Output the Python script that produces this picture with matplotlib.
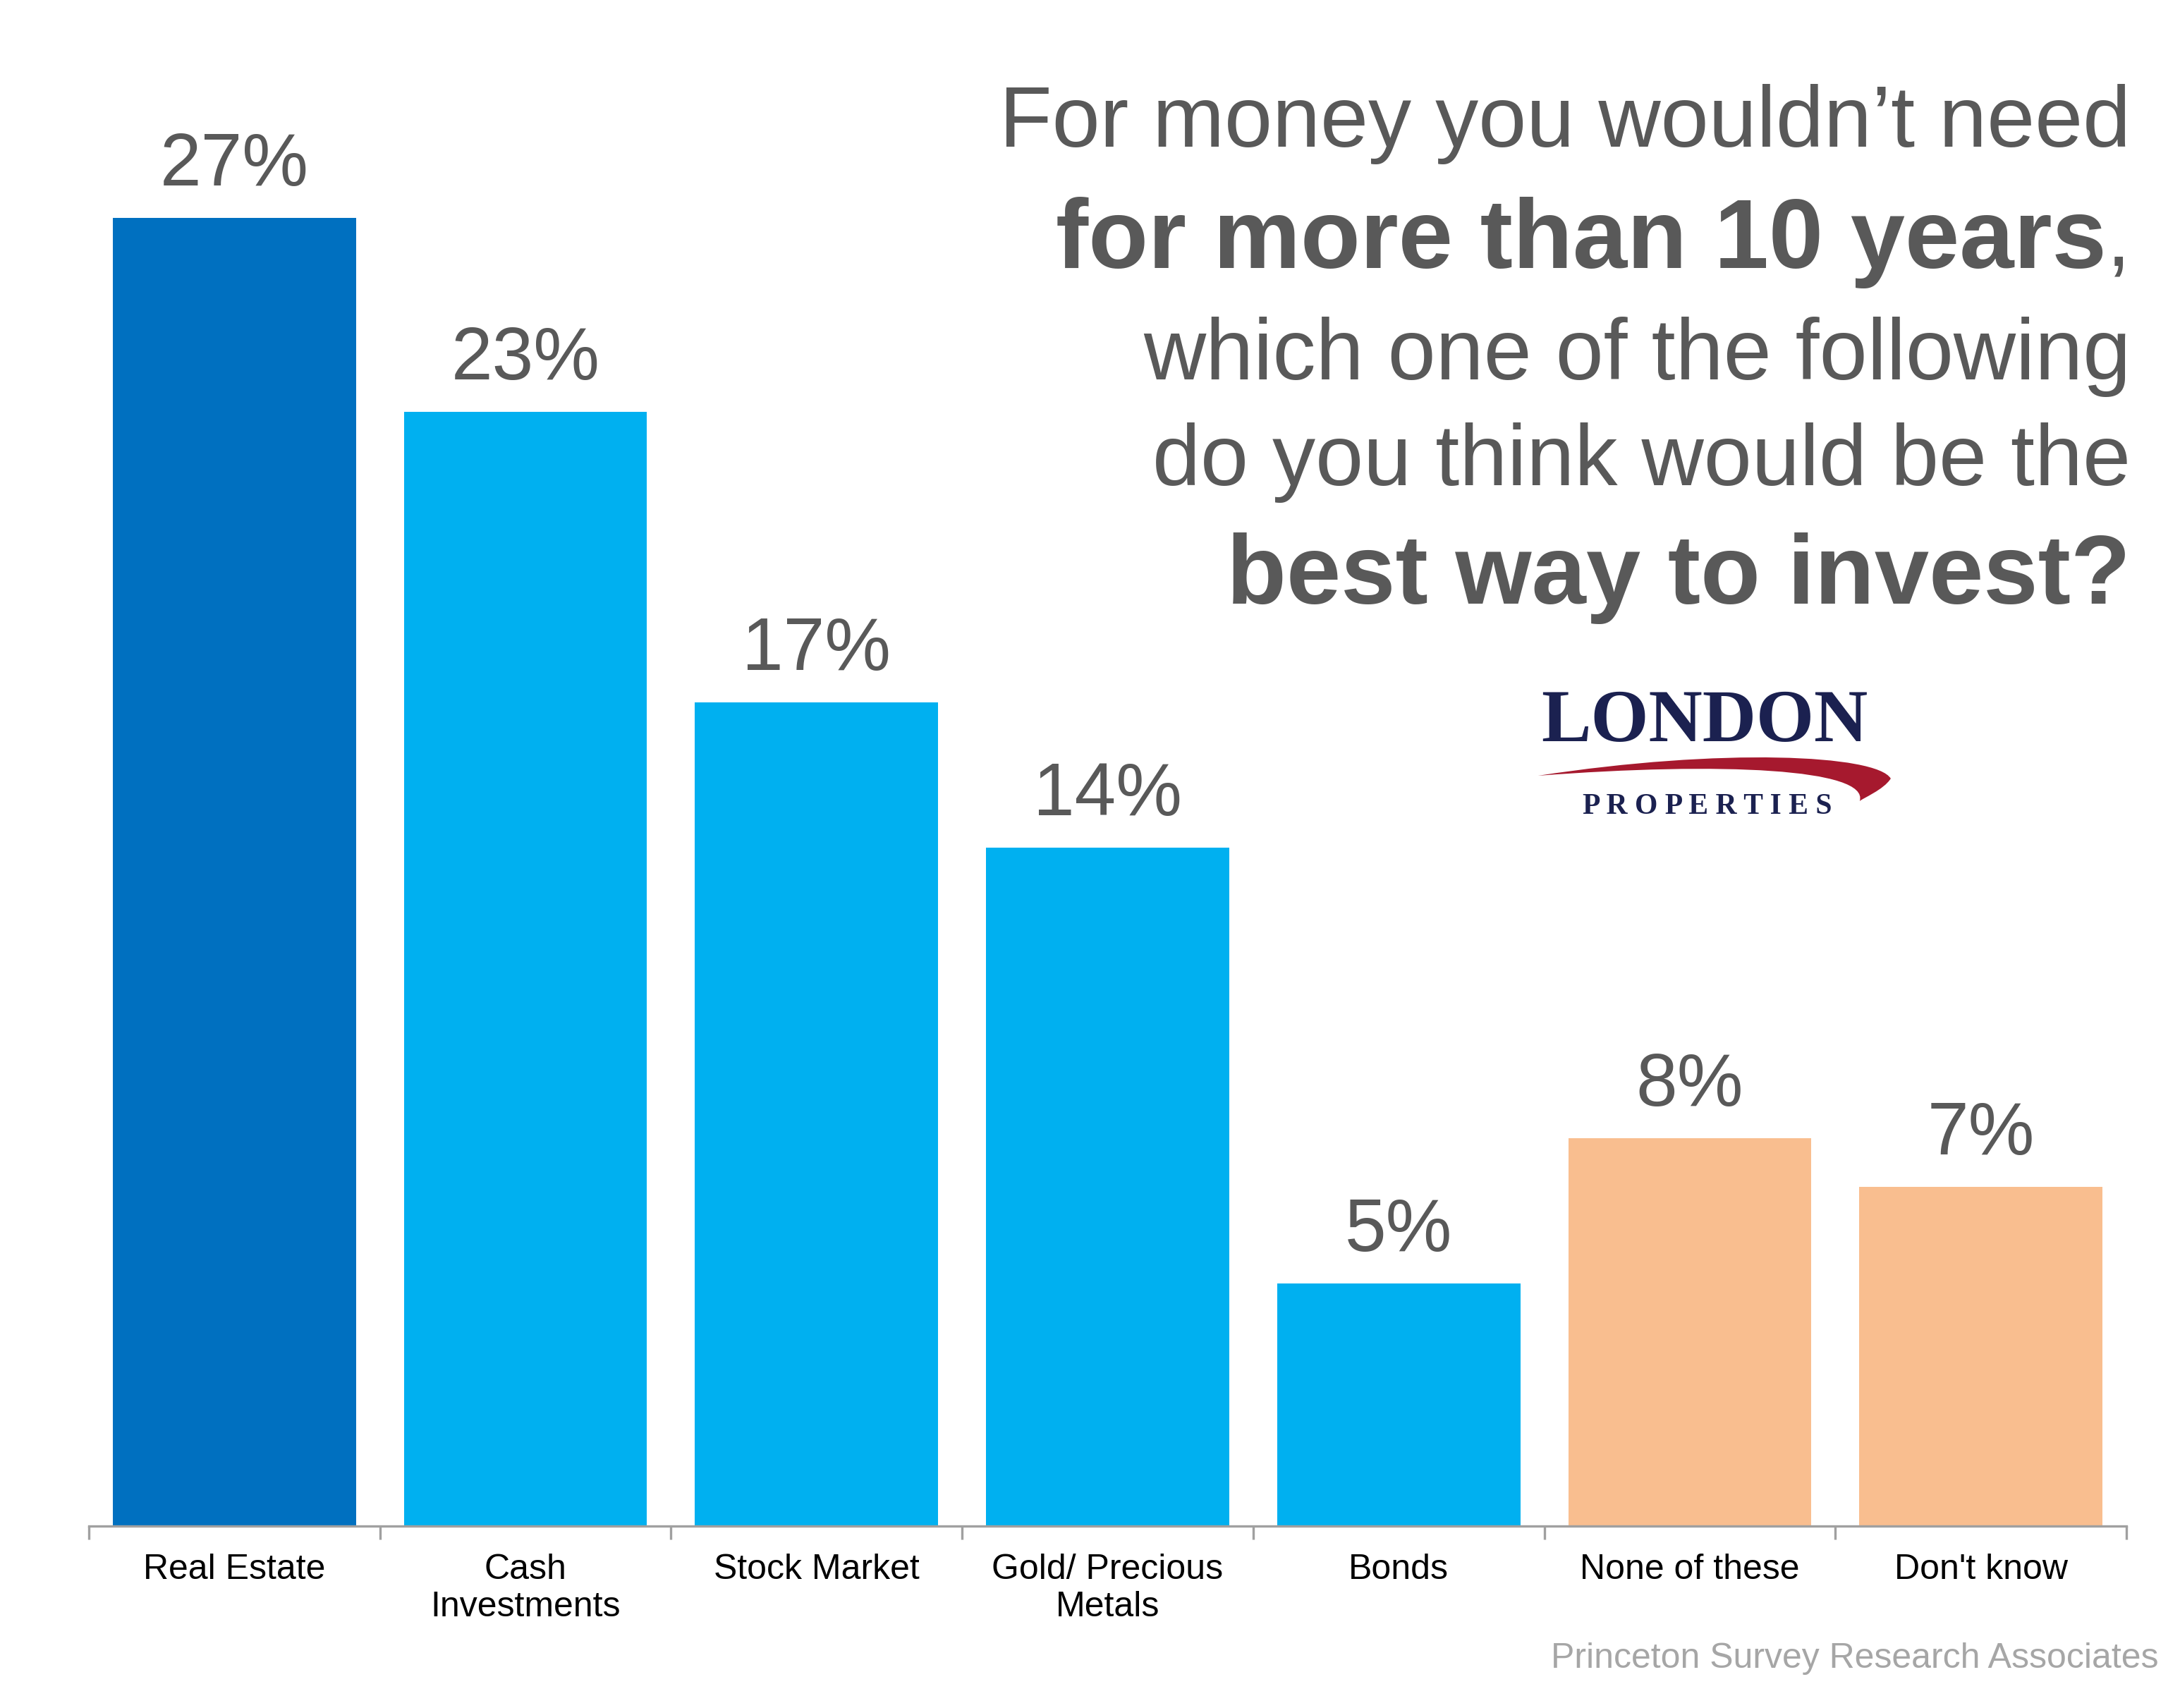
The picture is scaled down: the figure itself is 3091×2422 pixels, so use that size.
import matplotlib.pyplot as plt
import numpy as np
from matplotlib.patches import PathPatch
from matplotlib.path import Path

plt.rcParams["font.family"] = "Liberation Sans"

categories = ["Real Estate", "Cash\nInvestments", "Stock Market", "Gold/ Precious\nMetals",
              "Bonds", "None of these", "Don't know"]
values = [27, 23, 17, 14, 5, 8, 7]
colors = ["#0070C0", "#00B0F0", "#00B0F0", "#00B0F0", "#00B0F0", "#F9BE8F", "#F9BE8F"]

W, H = 1545, 1211
fig = plt.figure(figsize=(15.455, 12.11), dpi=200)
ax = fig.add_axes([63 / W, 1 - 1082 / H, (1507 - 63) / W, 0.851])

x = np.arange(len(categories))
ax.bar(x, values, width=0.835, color=colors)
for xi, v in zip(x, values):
    ax.text(xi, v + 0.35, f"{v}%", ha="center", va="bottom", fontsize=38, color="#595959")

ax.set_xlim(-0.5, len(categories) - 0.5)
ax.set_ylim(0, 30)
ax.set_yticks([])
for s in ["top", "right", "left"]:
    ax.spines[s].set_visible(False)
ax.spines["bottom"].set_color("#A0A0A0")
ax.spines["bottom"].set_linewidth(1.2)
ax.set_xticks(x)
ax.set_xticklabels(categories, fontsize=18, color="#000000", linespacing=1.2)
ax.tick_params(axis="x", which="major", length=0, pad=14)
ax.set_xticks(np.arange(-0.5, len(categories)), minor=True)
ax.tick_params(axis="x", which="minor", length=7, color="#A0A0A0", width=1.2)

# title
tc = "#595959"
xr = 1510 / W
fig.text(xr, 1 - 88 / H, "For money you wouldn\u2019t need", ha="right", va="center", fontsize=44, color=tc)
comma = fig.text(xr, 1 - 172 / H, ",", ha="right", va="center", fontsize=44, color=tc)
fig.canvas.draw()
cw = comma.get_window_extent().width / fig.bbox.width
fig.text(xr - cw, 1 - 172 / H, "for more than 10 years", ha="right", va="center",
         fontsize=50, color=tc, fontweight="bold")
fig.text(xr, 1 - 253 / H, "which one of the following", ha="right", va="center", fontsize=44, color=tc)
fig.text(xr, 1 - 328 / H, "do you think would be the", ha="right", va="center", fontsize=44, color=tc)
fig.text(xr, 1 - 410 / H, "best way to invest?", ha="right", va="center", fontsize=50,
         color=tc, fontweight="bold")

# logo
navy = "#1B2150"
fig.text(1208 / W, 1 - 513 / H, "LONDON", ha="center", va="center", fontsize=38,
         color=navy, family="Liberation Serif", fontweight="bold")
fig.text(1210 / W, 1 - 572 / H, "P R O P E R T I E S", ha="center", va="center", fontsize=15,
         color=navy, family="Liberation Serif", fontweight="bold")
verts = [(1090, 550), (1220, 530), (1330, 535), (1340, 552),
         (1335, 560), (1320, 566), (1318, 568),
         (1325, 545), (1220, 540), (1090, 550)]
verts = [(vx / W, 1 - vy / H) for vx, vy in verts]
codes = [Path.MOVETO, Path.CURVE4, Path.CURVE4, Path.CURVE4,
         Path.CURVE4, Path.CURVE4, Path.CURVE4,
         Path.CURVE4, Path.CURVE4, Path.CURVE4]
fig.patches.append(PathPatch(Path(verts, codes), transform=fig.transFigure,
                             facecolor="#A6192E", edgecolor="none"))

fig.text(1530 / W, 1 - 1176 / H, "Princeton Survey Research Associates", ha="right", va="center",
         fontsize=18, color="#A6A6A6")

fig.savefig("out.png", dpi=200, facecolor="white")
